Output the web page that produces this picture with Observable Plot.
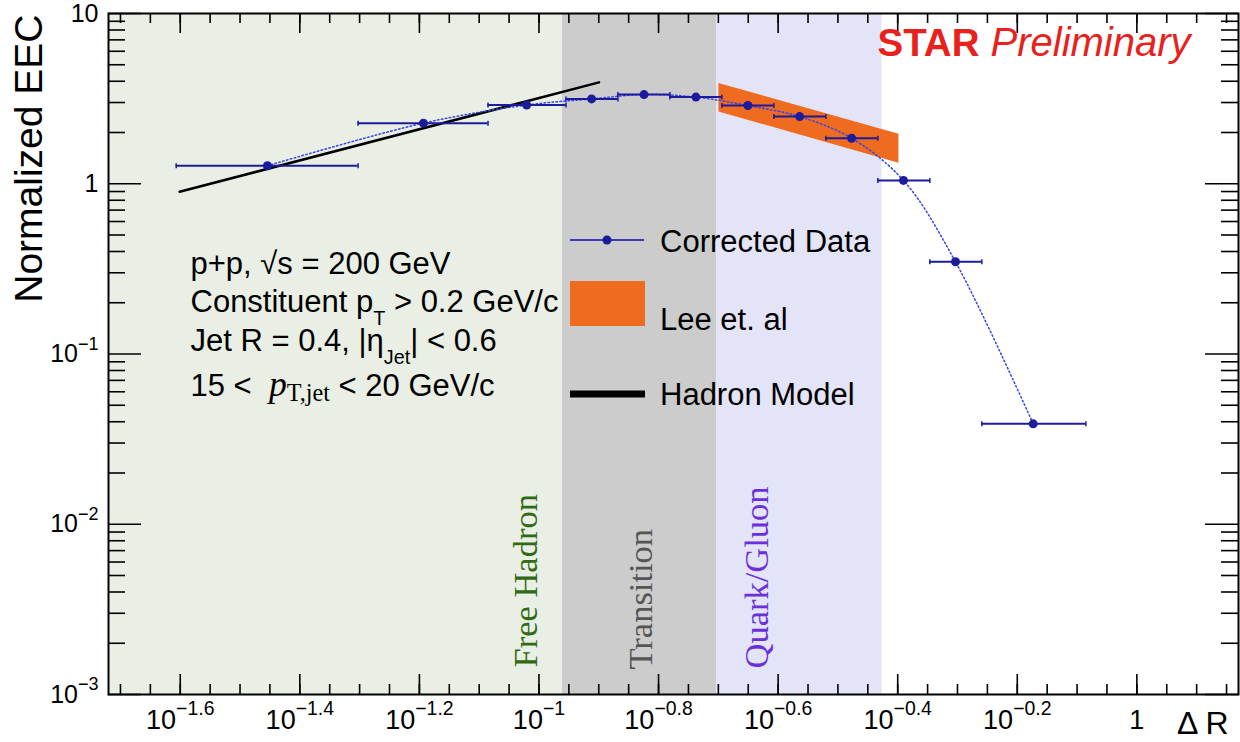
<!DOCTYPE html>
<html><head><meta charset="utf-8">
<script src="https://cdn.jsdelivr.net/npm/d3@7"></script>
<script src="https://cdn.jsdelivr.net/npm/@observablehq/plot@0.6"></script>
<style>
body{margin:0;background:#fff;}
#chart svg{display:block;}
</style></head><body><div id="chart"></div>
<script>
// ---------- data ----------
const deltaR   = [0.03514, 0.06408, 0.09537, 0.12246, 0.14986, 0.18302, 0.22361, 0.27290, 0.33336, 0.40701, 0.49734, 0.67084];
const binLo    = [0.02473, 0.04983, 0.08218, 0.11097, 0.13553, 0.16561, 0.20230, 0.24717, 0.30193, 0.36885, 0.45060, 0.55052];
const binHi    = [0.04983, 0.08218, 0.11097, 0.13553, 0.16561, 0.20230, 0.24717, 0.30193, 0.36885, 0.45060, 0.55052, 0.82168];
const eec      = [1.276, 2.27, 2.90, 3.15, 3.34, 3.23, 2.88, 2.48, 1.85, 1.046, 0.348, 0.0389];

const leeX     = [0.2, 0.4];
const leeLow   = [2.64, 1.32];
const leeHigh  = [3.88, 1.95];

const hadronX  = [0.02506, 0.126];
const hadronY  = [0.897, 3.94];

const regionNames = ["Free Hadron", "Transition", "Quark/Gluon"];
const regionLo    = [10 ** -1.72, 0.1095, 0.1984];
const regionHi    = [0.1095, 0.1984, 0.3747];

const xDomain = [10 ** -1.72, 10 ** 0.17];
const yDomain = [1e-3, 10];
const xTickExps   = [-1.6, -1.4, -1.2, -1, -0.8, -0.6, -0.4, -0.2, 0];
const xTickLabels = ["10^{−1.6}", "10^{−1.4}", "10^{−1.2}", "10^{−1}", "10^{−0.8}", "10^{−0.6}", "10^{−0.4}", "10^{−0.2}", "1"];
const yTickExps   = [-3, -2, -1, 0, 1];
const yTickLabels = ["10^{−3}", "10^{−2}", "10^{−1}", "1", "10"];

const infoLines = ["p+p, √s = 200 GeV", "Constituent p_{T} > 0.2 GeV/c", "Jet R = 0.4, |η_{Jet}| < 0.6", "15 <  @{p}#{T,jet} < 20 GeV/c"];
const legendLabels = ["Corrected Data", "Lee et. al", "Hadron Model"];

// ---------- styles ----------
const W = 1240, H = 742, mL = 108, mR = 2, mT = 13, mB = 48;
const iW = W - mL - mR, iH = H - mT - mB;
const regionFill = ["#e9efe4", "#cccccc", "#e4e4f9"];
const regionText = ["#2f6b12", "#555555", "#6a30dc"];
const blue = "#1b1b9b", dotBlue = "#3446e6", orange = "#ef6b1f";
const sans = "'Liberation Sans', Arial, Helvetica, sans-serif";
const serif = "'Liberation Serif', 'Times New Roman', serif";

const pts = deltaR.map((x, i) => ({x, y: eec[i], lo: binLo[i], hi: binHi[i]}));
const lee = leeX.map((x, i) => ({x, lo: leeLow[i], hi: leeHigh[i]}));
const had = hadronX.map((x, i) => ({x, y: hadronY[i]}));
const regions = regionNames.map((n, i) => ({n, x1: regionLo[i], x2: regionHi[i], fill: regionFill[i]}));

const xMajor = xTickExps.map(e => 10 ** e);
const xMinor = d3.range(-34, 4).map(i => 10 ** (i * 0.05));
const yMajor = yTickExps.map(e => 10 ** e);
const yMinor = d3.range(-3, 1).flatMap(n => d3.range(2, 10).map(k => k * 10 ** n));
const xLab = new Map(xMajor.map((v, i) => [v, xTickLabels[i]]));
const yLab = new Map(yMajor.map((v, i) => [v, yTickLabels[i]]));

// vertical bar symbol for error-bar end caps
const vbar = {draw(ctx, size) { const h = Math.sqrt(size / Math.PI); ctx.moveTo(0, -h); ctx.lineTo(0, h); }};

const tk = {stroke: "#000", strokeWidth: 1.6};
const info = (s, dy) => Plot.text([s], {frameAnchor: "top-left", text: d => d, textAnchor: "start", lineAnchor: "middle", dx: 82, dy, fontSize: 31});
const region = (i, dx, dy) => Plot.text([regionNames[i]], {frameAnchor: "bottom-left", text: d => d, rotate: -90, textAnchor: "start", lineAnchor: "middle", dx, dy, fontSize: 34.5, fontFamily: serif, fill: regionText[i]});

const plot = Plot.plot({
  width: W, height: H,
  marginLeft: mL, marginRight: mR, marginTop: mT, marginBottom: mB,
  style: {fontFamily: sans, background: "white", overflow: "visible", color: "#000"},
  x: {type: "log", domain: xDomain, axis: null},
  y: {type: "log", domain: yDomain, axis: null},
  marks: [
    Plot.rect(regions, {x1: "x1", x2: "x2", fill: "fill"}),
    Plot.areaY(lee, {x: "x", y1: "lo", y2: "hi", fill: orange}),
    Plot.line(had, {x: "x", y: "y", stroke: "#000", strokeWidth: 2.5}),
    Plot.line(pts, {x: "x", y: "y", stroke: dotBlue, strokeWidth: 1.5, strokeDasharray: "1.5,2.5", curve: "catmull-rom"}),
    Plot.ruleY(pts, {y: "y", x1: "lo", x2: "hi", stroke: blue, strokeWidth: 2}),
    Plot.dot(pts, {x: "lo", y: "y", symbol: vbar, r: 2.5, stroke: blue, strokeWidth: 1.5, fill: "none"}),
    Plot.dot(pts, {x: "hi", y: "y", symbol: vbar, r: 2.5, stroke: blue, strokeWidth: 1.5, fill: "none"}),
    Plot.dot(pts, {x: "x", y: "y", r: 4.5, fill: blue}),
    // ticks (inward, ROOT style)
    Plot.ruleX(xMinor, {x: d => d, insetTop: iH - 10, ...tk}),
    Plot.ruleX(xMajor, {x: d => d, insetTop: iH - 20, ...tk}),
    Plot.ruleX(xMinor, {x: d => d, insetBottom: iH - 10, ...tk}),
    Plot.ruleX(xMajor, {x: d => d, insetBottom: iH - 20, ...tk}),
    Plot.ruleY(yMinor, {y: d => d, insetRight: iW - 17, ...tk}),
    Plot.ruleY(yMajor, {y: d => d, insetRight: iW - 33, ...tk}),
    Plot.ruleY(yMinor, {y: d => d, insetLeft: iW - 17, ...tk}),
    Plot.ruleY(yMajor, {y: d => d, insetLeft: iW - 33, ...tk}),
    Plot.frame({stroke: "#000", strokeWidth: 2}),
    Plot.axisX(xMajor, {anchor: "bottom", tickSize: 0, tickPadding: 15, fontSize: 27, tickFormat: d => xLab.get(d)}),
    Plot.axisY(yMajor, {anchor: "left", tickSize: 0, tickPadding: 10, fontSize: 25, tickFormat: d => yLab.get(d)}),
    // axis titles
    Plot.text(["Normalized EEC"], {frameAnchor: "top-left", text: d => d, rotate: -90, textAnchor: "end", lineAnchor: "middle", dx: -79, dy: 1, fontSize: 39}),
    Plot.text(["Δ R"], {frameAnchor: "bottom-right", text: d => d, textAnchor: "end", lineAnchor: "middle", dx: -10, dy: 29, fontSize: 32}),
    // STAR Preliminary
    Plot.text(["STAR"], {frameAnchor: "top-left", text: d => d, textAnchor: "start", lineAnchor: "middle", dx: 769, dy: 30, fontSize: 38.5, fontWeight: "bold", fill: "#e8211c"}),
    Plot.text(["Preliminary"], {frameAnchor: "top-left", text: d => d, textAnchor: "start", lineAnchor: "middle", dx: 882, dy: 30, fontSize: 40, fontStyle: "italic", fill: "#e8211c"}),
    // info text
    info(infoLines[0], 251),
    info(infoLines[1], 289),
    info(infoLines[2], 328),
    info(infoLines[3], 373),
    // region labels
    region(0, 417, -27),
    region(1, 532, -25),
    region(2, 648, -26)
  ]
});
document.getElementById("chart").appendChild(plot);

// ---------- rich text (super/subscripts) ----------
const NS = "http://www.w3.org/2000/svg";
plot.querySelectorAll("text").forEach(t => {
  if (t.querySelector("tspan")) return;
  const s = t.textContent;
  if (!/[\^_@#]\{/.test(s)) return;
  const fs = parseFloat(getComputedStyle(t).fontSize);
  t.textContent = "";
  let cur = 0;
  const seg = (str, target, attrs) => {
    if (!str) return;
    const ts = document.createElementNS(NS, "tspan");
    const d = target - cur;
    if (d) ts.setAttribute("dy", d);
    cur = target;
    for (const k in attrs) ts.setAttribute(k, attrs[k]);
    ts.textContent = str;
    t.appendChild(ts);
  };
  const re = /([\^_@#])\{([^}]*)\}/g;
  let last = 0, m;
  while ((m = re.exec(s))) {
    seg(s.slice(last, m.index), 0, {});
    if (m[1] === "^") seg(m[2], -0.5 * fs, {"font-size": 0.72 * fs});
    else if (m[1] === "_") seg(m[2], 0.42 * fs, {"font-size": 0.64 * fs});
    else if (m[1] === "@") seg(m[2], 0, {"font-family": serif, "font-style": "italic", "font-size": 1.15 * fs});
    else if (m[1] === "#") seg(m[2], 0.15 * fs, {"font-family": serif, "font-size": 0.78 * fs});
    last = re.lastIndex;
  }
  seg(s.slice(last), 0, {});
});

// ---------- legend ----------
const lg = d3.select(plot).append("g")
  .attr("font-family", sans).attr("font-size", 31).attr("fill", "#000").attr("text-anchor", "start");
lg.append("line").attr("x1", 570).attr("x2", 644).attr("y1", 240).attr("y2", 240).attr("stroke", "#3a3ab0").attr("stroke-width", 2);
lg.append("circle").attr("cx", 607).attr("cy", 240).attr("r", 4.5).attr("fill", blue);
lg.append("text").attr("x", 660).attr("y", 252).text(legendLabels[0]);
lg.append("rect").attr("x", 570).attr("y", 281).attr("width", 75).attr("height", 45).attr("fill", orange);
lg.append("text").attr("x", 660).attr("y", 330).text(legendLabels[1]);
lg.append("line").attr("x1", 570).attr("x2", 645).attr("y1", 394).attr("y2", 394).attr("stroke", "#000").attr("stroke-width", 7);
lg.append("text").attr("x", 660).attr("y", 405).text(legendLabels[2]);
</script>
</body></html>
